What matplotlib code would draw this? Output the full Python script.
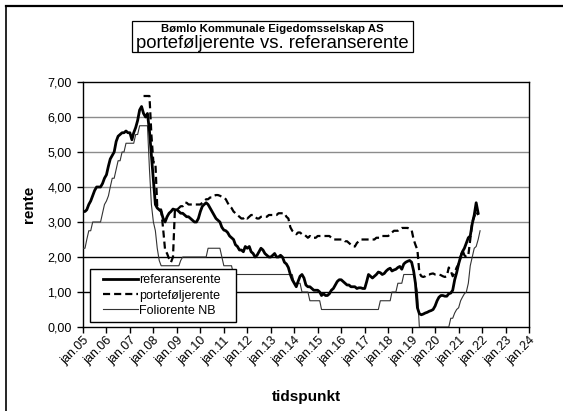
import matplotlib
matplotlib.use("Agg")
import matplotlib.pyplot as plt
import matplotlib.patches as mpatches
from matplotlib.lines import Line2D
from matplotlib.ticker import FuncFormatter
import pandas as pd

plt.rcParams['font.family'] = ['Liberation Sans', 'DejaVu Sans']

# ---------------- data (monthly) ----------------
ref_start = "2005-01-01"
referanserente = [
    3.3, 3.3, 3.35, 3.5, 3.6, 3.75, 3.9, 4.0, 4.0, 4.0, 4.1, 4.25,          # 2005
    4.35, 4.6, 4.8, 4.9, 5.0, 5.3, 5.45, 5.5, 5.55, 5.55, 5.6, 5.55,        # 2006
    5.55, 5.35, 5.55, 5.7, 5.9, 6.2, 6.3, 6.1, 6.0, 6.1, 5.6, 4.9,          # 2007
    4.2, 3.5, 3.4, 3.35, 3.3, 3.1, 3.0, 3.15, 3.25, 3.3, 3.37, 3.35,        # 2008
    3.35, 3.3, 3.25, 3.25, 3.2, 3.15, 3.15, 3.1, 3.05, 3.0, 3.0, 3.1,       # 2009
    3.3, 3.45, 3.5, 3.55, 3.5, 3.4, 3.3, 3.2, 3.1, 3.05, 3.0, 2.85,         # 2010
    2.77, 2.75, 2.7, 2.6, 2.55, 2.5, 2.35, 2.3, 2.2, 2.2, 2.15, 2.3,        # 2011
    2.25, 2.3, 2.15, 2.1, 2.0, 2.05, 2.15, 2.25, 2.2, 2.1, 2.05, 2.0,       # 2012
    2.0, 2.05, 2.1, 2.0, 2.0, 2.05, 2.0, 1.85, 1.8, 1.7, 1.5, 1.35,         # 2013
    1.25, 1.15, 1.3, 1.45, 1.5, 1.4, 1.2, 1.15, 1.15, 1.1, 1.05, 1.05,      # 2014
    1.05, 1.0, 0.9, 0.95, 0.9, 0.9, 0.95, 1.05, 1.1, 1.2, 1.3, 1.35,        # 2015
    1.35, 1.3, 1.25, 1.2, 1.2, 1.15, 1.15, 1.15, 1.1, 1.12, 1.12, 1.1,      # 2016
    1.1, 1.3, 1.5, 1.45, 1.4, 1.45, 1.5, 1.57, 1.55, 1.5, 1.53, 1.6,        # 2017
    1.65, 1.68, 1.6, 1.63, 1.65, 1.7, 1.73, 1.65, 1.8, 1.85, 1.88, 1.9,     # 2018
    1.85, 1.6, 1.25, 0.55, 0.38, 0.35, 0.37, 0.4, 0.42, 0.45, 0.47, 0.5,    # 2019
    0.6, 0.75, 0.85, 0.9, 0.9, 0.88, 0.88, 0.95, 0.97, 1.05, 1.35, 1.55,    # 2020
    1.8, 2.0, 2.15, 2.25, 2.4, 2.55, 2.6, 2.95, 3.2, 3.55, 3.25,            # 2021
]

port_start = "2007-08-01"
portefoljerente = [
    6.6, 6.6, 6.6, 6.6, 5.5,                                                # 2007 (aug-dec)
    4.7, 4.7, 3.45, 3.4, 3.35, 2.8, 2.2, 2.1, 1.95, 1.85, 2.0, 3.35,        # 2008
    3.35, 3.4, 3.45, 3.45, 3.55, 3.55, 3.5, 3.5, 3.5, 3.5, 3.5, 3.5,        # 2009
    3.5, 3.55, 3.6, 3.65, 3.65, 3.7, 3.7, 3.75, 3.77, 3.77, 3.75, 3.72,     # 2010
    3.7, 3.65, 3.55, 3.45, 3.4, 3.3, 3.25, 3.2, 3.15, 3.1, 3.1, 3.15,       # 2011
    3.1, 3.15, 3.2, 3.2, 3.15, 3.1, 3.1, 3.15, 3.15, 3.15, 3.15, 3.2,       # 2012
    3.2, 3.2, 3.2, 3.2, 3.25, 3.25, 3.25, 3.25, 3.15, 3.1, 2.85, 2.75,      # 2013
    2.7, 2.65, 2.7, 2.7, 2.65, 2.65, 2.6, 2.55, 2.6, 2.55, 2.55, 2.55,      # 2014
    2.6, 2.6, 2.6, 2.6, 2.6, 2.6, 2.6, 2.55, 2.5, 2.5, 2.5, 2.5,            # 2015
    2.5, 2.5, 2.45, 2.45, 2.4, 2.35, 2.3, 2.3, 2.4, 2.45, 2.5, 2.5,         # 2016
    2.5, 2.5, 2.5, 2.5, 2.5, 2.5, 2.55, 2.55, 2.55, 2.6, 2.6, 2.6,          # 2017
    2.6, 2.65, 2.7, 2.75, 2.75, 2.75, 2.8, 2.83, 2.83, 2.83, 2.83, 2.8,     # 2018
    2.77, 2.5, 2.35, 2.2, 1.55, 1.45, 1.43, 1.45, 1.5, 1.5, 1.52, 1.53,     # 2019
    1.5, 1.5, 1.5, 1.48, 1.45, 1.43, 1.45, 1.7, 1.6, 1.45, 1.55, 1.7,       # 2020
    1.8, 2.0, 2.2, 2.05, 2.0, 2.05, 2.5, 3.0, 3.15, 3.3, 3.2,               # 2021
]

folio_start = "2005-01-01"
foliorente = [
    2.25, 2.25, 2.5, 2.75, 2.75, 3.0, 3.0, 3.0, 3.0, 3.0, 3.25, 3.5,        # 2005
    3.6, 3.75, 4.0, 4.25, 4.25, 4.5, 4.75, 4.75, 5.0, 5.0, 5.25, 5.25,      # 2006
    5.25, 5.25, 5.25, 5.5, 5.5, 5.75, 5.75, 5.75, 5.75, 5.75, 4.5, 3.5,     # 2007
    3.0, 2.75, 2.25, 1.9, 1.75, 1.75, 1.75, 1.75, 1.75, 1.75, 1.75, 1.75,   # 2008
    1.75, 1.75, 1.9, 2.0, 2.0, 2.0, 2.0, 2.0, 2.0, 2.0, 2.0, 2.0,           # 2009
    2.0, 2.0, 2.0, 2.0, 2.25, 2.25, 2.25, 2.25, 2.25, 2.25, 2.25, 2.0,      # 2010
    1.75, 1.75, 1.75, 1.75, 1.75, 1.5, 1.5, 1.5, 1.5, 1.5, 1.5, 1.5,        # 2011
    1.5, 1.5, 1.5, 1.5, 1.5, 1.5, 1.5, 1.5, 1.5, 1.5, 1.5, 1.5,             # 2012
    1.5, 1.5, 1.5, 1.5, 1.5, 1.5, 1.5, 1.5, 1.5, 1.5, 1.5, 1.5,             # 2013
    1.25, 1.25, 1.25, 1.25, 1.0, 1.0, 1.0, 1.0, 0.75, 0.75, 0.75, 0.75,     # 2014
    0.75, 0.75, 0.5, 0.5, 0.5, 0.5, 0.5, 0.5, 0.5, 0.5, 0.5, 0.5,           # 2015
    0.5, 0.5, 0.5, 0.5, 0.5, 0.5, 0.5, 0.5, 0.5, 0.5, 0.5, 0.5,             # 2016
    0.5, 0.5, 0.5, 0.5, 0.5, 0.5, 0.5, 0.5, 0.75, 0.75, 0.75, 0.75,         # 2017
    0.75, 0.75, 1.0, 1.0, 1.0, 1.25, 1.25, 1.25, 1.5, 1.5, 1.5, 1.5,        # 2018
    1.5, 1.5, 1.3, 1.0, 0.0, 0.0, 0.0, 0.0, 0.0, 0.0, 0.0, 0.0,             # 2019
    0.0, 0.0, 0.0, 0.0, 0.0, 0.0, 0.0, 0.0, 0.25, 0.25, 0.4, 0.5,           # 2020
    0.55, 0.75, 0.85, 0.95, 1.0, 1.25, 1.75, 2.0, 2.25, 2.3, 2.5, 2.75,     # 2021
]

year_ticks = list(range(2005, 2025))
y_ticks = [0, 1, 2, 3, 4, 5, 6, 7]

title_line1 = "Bømlo Kommunale Eigedomsselskap AS"
title_line2 = "porteføljerente vs. referanserente"
labels = ["referanserente", "porteføljerente", "Foliorente NB"]

# ---------------- figure ----------------
W, H = 563, 411
fig = plt.figure(figsize=(W / 100, H / 100), dpi=100)
fig.patch.set_facecolor("white")

# outer chart-area border (top and left visible)
fig.add_artist(Line2D([6 / W, 6 / W], [0, 1 - 6 / H], color="black", lw=1.2,
                      transform=fig.transFigure))
fig.add_artist(Line2D([6 / W, 1], [1 - 6 / H, 1 - 6 / H], color="black", lw=1.6,
                      transform=fig.transFigure))

# title box
bx0, bx1 = 132 / W, 413 / W
by0, by1 = 1 - 52 / H, 1 - 21 / H
fig.add_artist(mpatches.Rectangle((bx0, by0), bx1 - bx0, by1 - by0, fill=False,
                                  edgecolor="black", lw=0.9, transform=fig.transFigure))
cx = (bx0 + bx1) / 2
fig.text(cx, 1 - 29 / H, title_line1, ha="center", va="center", fontsize=8.2,
         fontweight="bold")
fig.text(cx, 1 - 43.5 / H, title_line2, ha="center", va="center", fontsize=13.3)

ax_left, ax_right = 83 / W, 529 / W
ax_bottom, ax_top = (H - 327) / H, (H - 82) / H
axw_px, axh_px = 529 - 83, 327 - 82
ax = fig.add_axes([ax_left, ax_bottom, ax_right - ax_left, ax_top - ax_bottom])

d_ref = pd.date_range(ref_start, periods=len(referanserente), freq="MS")
d_port = pd.date_range(port_start, periods=len(portefoljerente), freq="MS")
d_folio = pd.date_range(folio_start, periods=len(foliorente), freq="MS")

# gridlines
for v in y_ticks[1:-1]:
    col = "black" if v in (1, 2) else "#8c8c8c"
    ax.axhline(v, color=col, lw=1.0, zorder=1)

l3, = ax.plot(d_folio, foliorente, color="#333333", lw=0.8, zorder=3)
l1, = ax.plot(d_ref, referanserente, color="black", lw=2.0, zorder=4)
l2, = ax.plot(d_port, portefoljerente, color="black", lw=1.6, ls=(0, (3.2, 1.8)),
              zorder=5)

ax.set_xlim(pd.Timestamp("2005-01-01"), pd.Timestamp("2024-01-01"))
ax.set_ylim(0, 7)

ax.set_yticks(y_ticks)
ax.yaxis.set_major_formatter(FuncFormatter(lambda v, p: f"{v:.2f}".replace(".", ",")))
xt = [pd.Timestamp(f"{y}-01-01") for y in year_ticks]
ax.set_xticks(xt)
ax.set_xticklabels([f"jan.{y % 100:02d}" for y in year_ticks], rotation=45,
                   ha="right", rotation_mode="anchor")
ax.tick_params(axis="both", direction="out", length=4, width=1, colors="black",
               labelsize=9)
ax.tick_params(axis="y", pad=4)
ax.tick_params(axis="x", pad=1.5)

for s in ax.spines.values():
    s.set_color("black")
    s.set_linewidth(1.0)

ax.set_ylabel("rente", fontsize=11, fontweight="bold", labelpad=8)
ax.set_xlabel("tidspunkt", fontsize=11, fontweight="bold", labelpad=16)

# legend box (drawn as a patch in axes coordinates) and legend content
lx0, lx1 = (90 - 83) / axw_px, (236 - 83) / axw_px
ly0, ly1 = (327 - 322) / axh_px, (327 - 269) / axh_px
ax.add_patch(mpatches.Rectangle((lx0, ly0), lx1 - lx0, ly1 - ly0, transform=ax.transAxes,
                                facecolor="white", edgecolor="black", lw=1.0, zorder=9))
leg = ax.legend([l1, l2, l3], labels, loc="center left",
                bbox_to_anchor=((100 - 83) / axw_px, (ly0 + ly1) / 2), borderaxespad=0,
                fontsize=9, frameon=False, handlelength=2.8, handletextpad=0.1,
                labelspacing=0.25, borderpad=0.2)
leg.set_zorder(10)

fig.savefig("out.png", dpi=100, facecolor="white")
